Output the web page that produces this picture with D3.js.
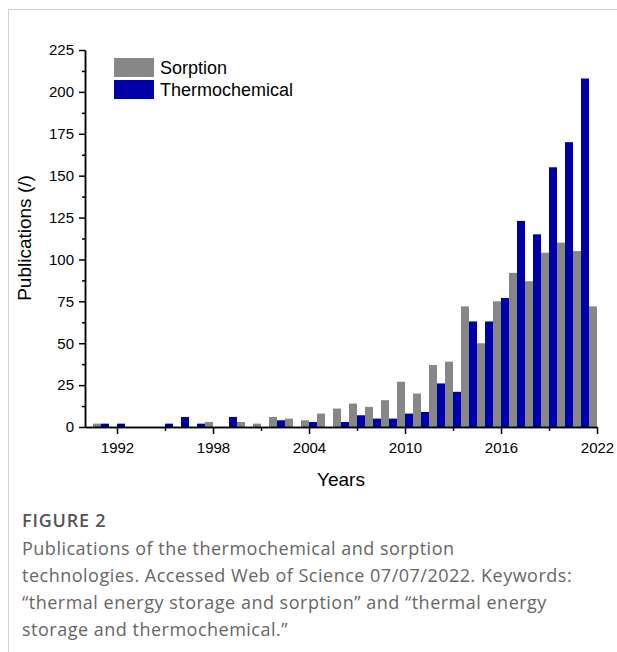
<!DOCTYPE html>
<html>
<head>
<meta charset="utf-8">
<title>Publications of thermochemical and sorption technologies</title>
<script src="https://cdn.jsdelivr.net/npm/d3@7"></script>
<style>
  body { margin: 0; background: #fff; }
  .axis text { font-family: "Liberation Sans", Arial, sans-serif; font-size: 15px; fill: #000; }
  .axis path, .axis line { stroke: #000; stroke-width: 1.5px; }
  .caption { font-family: "Open Sans", sans-serif; fill: #666; }
</style>
</head>
<body>
<svg id="chart" width="617" height="652"></svg>
<script>
  // publication counts
  var years        = d3.range(1991, 2023);
  var sorption     = [2, 0, 0, 0, 0, 0, 0, 3, 0, 3, 2, 6, 5, 4, 8, 11, 14, 12, 16, 27, 20, 37, 39, 72, 50, 75, 92, 87, 104, 110, 105, 72];
  var thermochem   = [2, 2, 0, 0, 2, 6, 2, 0, 6, 0, 0, 4, 0, 3, 0, 3, 7, 5, 5, 8, 9, 26, 21, 63, 63, 77, 123, 115, 155, 170, 208, 0];
  var yTicks       = d3.range(0, 226, 25);
  var xTicks       = [1992, 1998, 2004, 2010, 2016, 2022];
  var xMinorTicks  = [1995, 2001, 2007, 2013, 2019];
  var seriesNames  = ["Sorption", "Thermochemical"];
  var colors       = ["#878787", "#0000a8"];

  var svg = d3.select("#chart");

  // frame lines of the figure panel
  svg.append("line").attr("x1", 8).attr("y1", 9.5).attr("x2", 617).attr("y2", 9.5)
    .style("stroke", "#d0d0d0").style("stroke-width", 1);
  svg.append("line").attr("x1", 8.5).attr("y1", 9).attr("x2", 8.5).attr("y2", 652)
    .style("stroke", "#d0d0d0").style("stroke-width", 1);

  var x = d3.scaleLinear().domain([1990, 2022]).range([85, 597]);
  var y = d3.scaleLinear().domain([0, 225]).range([427, 50]);
  var bw = (x(1991) - x(1990)) / 2;

  var g = svg.append("g");

  // bars
  g.selectAll(".sorp").data(years).enter().append("rect")
    .attr("class", "sorp")
    .attr("x", function(d) { return x(d) - bw; })
    .attr("width", bw)
    .attr("y", function(d, i) { return y(sorption[i]); })
    .attr("height", function(d, i) { return y(0) - y(sorption[i]); })
    .style("fill", colors[0]);

  g.selectAll(".therm").data(years).enter().append("rect")
    .attr("class", "therm")
    .attr("x", function(d) { return x(d); })
    .attr("width", bw)
    .attr("y", function(d, i) { return y(thermochem[i]); })
    .attr("height", function(d, i) { return y(0) - y(thermochem[i]); })
    .style("fill", colors[1]);

  // y axis, major + minor ticks
  svg.append("g").attr("class", "axis")
    .attr("transform", "translate(" + x(1990) + ",0)")
    .call(d3.axisLeft(y).tickValues(yTicks.map(function(v) { return v + 12.5; }).slice(0, -1))
      .tickSize(3).tickSizeOuter(0).tickFormat(""));
  svg.append("g").attr("class", "axis")
    .attr("transform", "translate(" + x(1990) + ",0)")
    .call(d3.axisLeft(y).tickValues(yTicks).tickSize(6).tickSizeOuter(0).tickPadding(5));

  // x axis
  svg.append("g").attr("class", "axis")
    .attr("transform", "translate(0," + y(0) + ")")
    .call(d3.axisBottom(x).tickValues(xMinorTicks).tickSize(4).tickSizeOuter(0).tickFormat(""));
  svg.append("g").attr("class", "axis")
    .attr("transform", "translate(0," + y(0) + ")")
    .call(d3.axisBottom(x).tickValues(xTicks).tickSize(7).tickSizeOuter(0).tickPadding(8)
      .tickFormat(d3.format("d")));

  // axis titles
  svg.append("text").attr("x", 341).attr("y", 486)
    .attr("text-anchor", "middle")
    .style("font-family", "'Liberation Sans', Arial, sans-serif").style("font-size", "19px")
    .text("Years");
  svg.append("text").attr("transform", "translate(31,238) rotate(-90)")
    .attr("text-anchor", "middle")
    .style("font-family", "'Liberation Sans', Arial, sans-serif").style("font-size", "19px")
    .text("Publications (/)");

  // legend
  var legend = svg.append("g").attr("transform", "translate(114,58)");
  seriesNames.forEach(function(name, i) {
    legend.append("rect").attr("x", 0).attr("y", i * 22).attr("width", 40).attr("height", 19)
      .style("fill", colors[i]);
    legend.append("text").attr("x", 46).attr("y", i * 22 + 16)
      .style("font-family", "'Liberation Sans', Arial, sans-serif").style("font-size", "18px")
      .text(name);
  });

  // caption
  var captionLines = [
    "Publications of the thermochemical and sorption",
    "technologies. Accessed Web of Science 07/07/2022. Keywords:",
    "\u201Cthermal energy storage and sorption\u201D and \u201Cthermal energy",
    "storage and thermochemical.\u201D"
  ];
  svg.append("text").attr("class", "caption").attr("x", 22).attr("y", 527)
    .style("font-size", "18px").style("font-weight", 600).style("fill", "#555")
    .style("letter-spacing", "0.8px")
    .text("FIGURE 2");
  svg.selectAll(".capline").data(captionLines).enter().append("text")
    .attr("class", "caption capline")
    .attr("x", 22)
    .attr("y", function(d, i) { return 555 + i * 27; })
    .style("font-size", "18px")
    .style("letter-spacing", "0.5px")
    .text(function(d) { return d; });
</script>
</body>
</html>
